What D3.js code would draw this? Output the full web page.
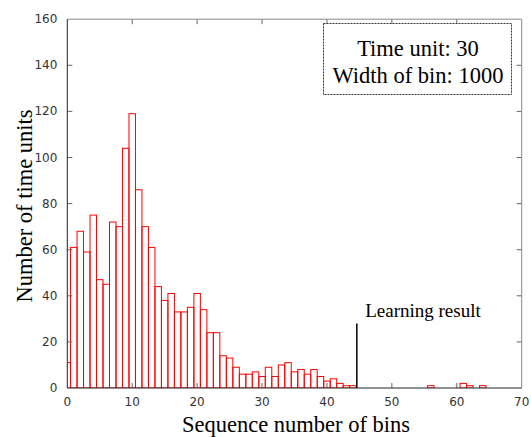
<!DOCTYPE html>
<html>
<head>
<meta charset="utf-8">
<script src="https://cdn.jsdelivr.net/npm/d3@7/dist/d3.min.js"></script>
<style>
  body { margin: 0; background: #fff; }
  svg { display: block; }
</style>
</head>
<body>
<svg width="531" height="437"></svg>
<script>
// bin index (centre) and number of time units in each bin
const bins = [0, 1, 2, 3, 4, 5, 6, 7, 8, 9, 10, 11, 12, 13, 14, 15, 16, 17, 18, 19, 20,
  21, 22, 23, 24, 25, 26, 27, 28, 29, 30, 31, 32, 33, 34, 35, 36, 37, 38, 39, 40,
  41, 42, 43, 44, 56, 61, 62, 64];
const counts = [11, 61, 68, 59, 75, 47, 45, 72, 70, 104, 119, 86, 70, 61, 44, 38, 41, 33, 33, 35, 41,
  34, 24, 24, 14, 13, 9, 6, 6, 7, 5, 9, 5, 10, 11, 7, 8, 6, 8, 5, 3,
  4, 2, 1, 1, 1, 2, 1, 1];

const xTicks = [0, 10, 20, 30, 40, 50, 60, 70];
const yTicks = [0, 20, 40, 60, 80, 100, 120, 140, 160];
const legendLines = ["Time unit: 30", "Width of bin: 1000"];
const learningX = 44.6;
const learningTop = 28;

const svg = d3.select("svg");
const pLeft = 67.3, pRight = 521.7, pTop = 19.2, pBottom = 388;

const x = d3.scaleLinear().domain([0, 70]).range([pLeft, pRight]);
const y = d3.scaleLinear().domain([0, 160]).range([pBottom, pTop]);

svg.append("clipPath").attr("id", "plot")
  .append("rect")
  .attr("x", pLeft).attr("y", pTop)
  .attr("width", pRight - pLeft).attr("height", pBottom - pTop);

// bars
svg.append("g")
  .attr("clip-path", "url(#plot)")
  .selectAll("rect")
  .data(bins.map((b, i) => ({ b: b, c: counts[i] })))
  .join("rect")
  .attr("x", d => x(d.b - 0.5))
  .attr("width", d => x(d.b + 0.5) - x(d.b - 0.5))
  .attr("y", d => y(d.c))
  .attr("height", d => y(0) - y(d.c))
  .style("fill", "none")
  .style("stroke", "#ff0000")
  .style("stroke-width", 1);

// inner ticks, all four sides
const tickLen = 5;
const ticks = svg.append("g").style("stroke", "#666").style("stroke-width", 1);
xTicks.slice(1, -1).forEach(t => {
  ticks.append("line").attr("x1", x(t)).attr("x2", x(t)).attr("y1", pBottom).attr("y2", pBottom - tickLen);
  ticks.append("line").attr("x1", x(t)).attr("x2", x(t)).attr("y1", pTop).attr("y2", pTop + tickLen);
});
yTicks.slice(1, -1).forEach(t => {
  ticks.append("line").attr("x1", pLeft).attr("x2", pLeft + tickLen).attr("y1", y(t)).attr("y2", y(t));
  ticks.append("line").attr("x1", pRight).attr("x2", pRight - tickLen).attr("y1", y(t)).attr("y2", y(t));
});

// frame
svg.append("line").attr("x1", pLeft).attr("x2", pRight).attr("y1", pTop).attr("y2", pTop)
  .style("stroke", "#888");
svg.append("line").attr("x1", pRight).attr("x2", pRight).attr("y1", pTop).attr("y2", pBottom)
  .style("stroke", "#888");
svg.append("line").attr("x1", pLeft).attr("x2", pLeft).attr("y1", pTop).attr("y2", pBottom)
  .style("stroke", "#222");
svg.append("line").attr("x1", pLeft).attr("x2", pRight).attr("y1", pBottom).attr("y2", pBottom)
  .style("stroke", "#222");

// tick labels
svg.append("g").selectAll("text").data(xTicks).join("text")
  .attr("x", d => x(d)).attr("y", pBottom + 18)
  .attr("text-anchor", "middle")
  .style("font", "12px 'DejaVu Sans', sans-serif").style("fill", "#333")
  .text(d => d);
svg.append("g").selectAll("text").data(yTicks).join("text")
  .attr("x", pLeft - 10).attr("y", d => y(d) + 4)
  .attr("text-anchor", "end")
  .style("font", "12px 'DejaVu Sans', sans-serif").style("fill", "#333")
  .text(d => d);

// axis titles
svg.append("text")
  .attr("x", 296).attr("y", 432)
  .attr("text-anchor", "middle")
  .style("font", "22.5px 'Liberation Serif', serif")
  .text("Sequence number of bins");
svg.append("text")
  .attr("transform", "translate(32,206) rotate(-90)")
  .attr("text-anchor", "middle")
  .style("font", "22.5px 'Liberation Serif', serif")
  .text("Number of time units");

// learning result marker
svg.append("line")
  .attr("x1", x(learningX)).attr("x2", x(learningX))
  .attr("y1", y(0)).attr("y2", y(learningTop))
  .style("stroke", "#000").style("stroke-width", 1.5);
svg.append("text")
  .attr("x", 423).attr("y", 317)
  .attr("text-anchor", "middle")
  .style("font", "19px 'Liberation Serif', serif")
  .text("Learning result");

// legend box
svg.append("rect")
  .attr("x", 323.5).attr("y", 23.5).attr("width", 188).attr("height", 71)
  .style("fill", "#fff").style("stroke", "#333")
  .style("stroke-dasharray", "2,1");
svg.append("g").selectAll("text").data(legendLines).join("text")
  .attr("x", 418).attr("y", (d, i) => 56 + i * 27)
  .attr("text-anchor", "middle")
  .style("font", "22.5px 'Liberation Serif', serif")
  .text(d => d);
</script>
</body>
</html>
